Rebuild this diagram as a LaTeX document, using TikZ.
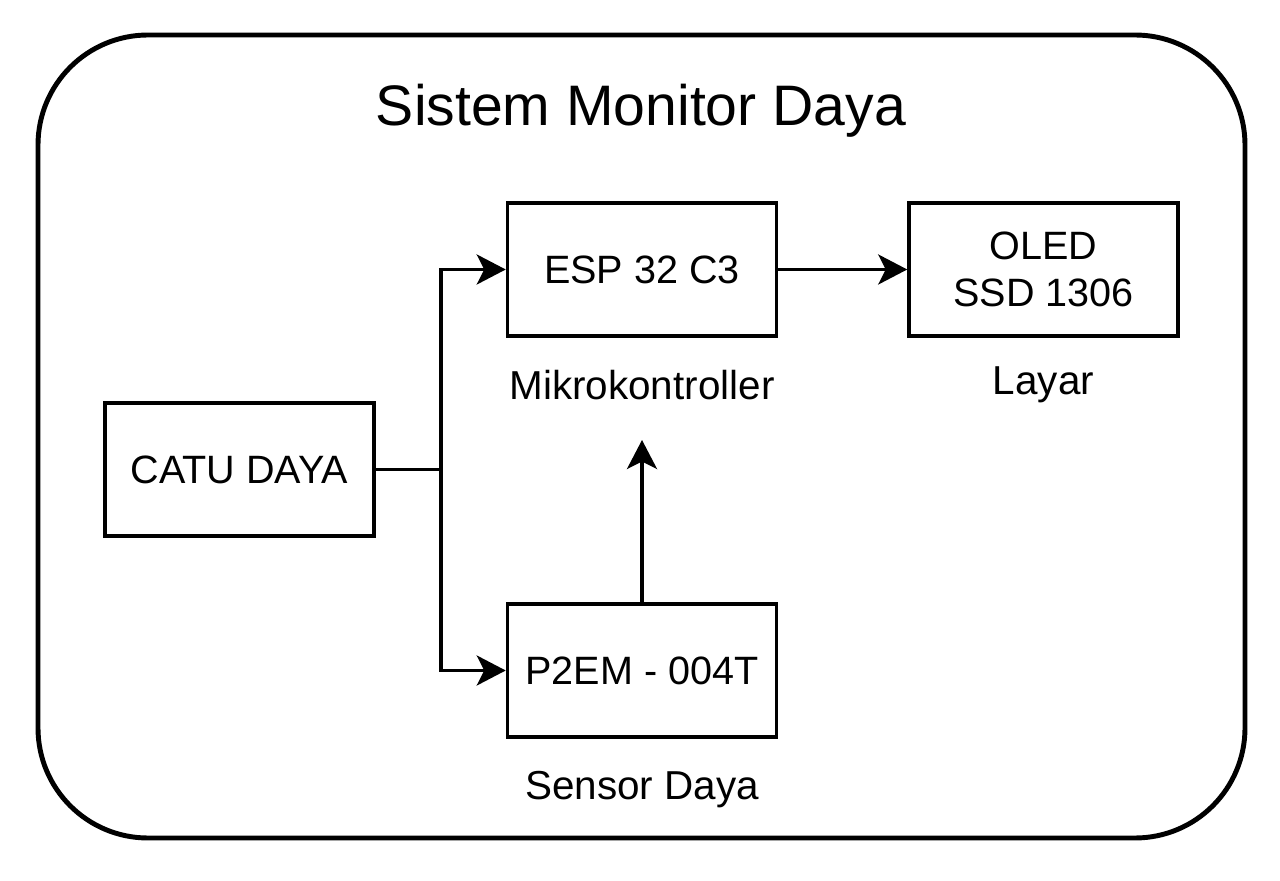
\documentclass[tikz,border=0pt]{standalone}
\usepackage{fontspec}
\setmainfont{Liberation Sans}
\usetikzlibrary{arrows.meta,positioning}

\tikzset{
    block/.style={draw, line width=2pt, minimum width=5.38cm, minimum height=2.66cm,
        inner sep=0pt, align=center, font=\fontsize{22.5}{27}\selectfont},
    caption/.style={font=\fontsize{23}{27}\selectfont},
    link/.style={line width=2pt, -{Stealth[length=0.58cm, width=0.6cm, inset=0.15cm]}}
}

\begin{document}
\begin{tikzpicture}
    \useasboundingbox (0, 0) rectangle (25.6, -17.62);

    % frame and title
    \draw[line width=2.8pt, rounded corners=2.2cm] (0.76, -0.70) rectangle (24.90, -16.76);
    \node[font=\fontsize{32.5}{38}\selectfont] (title) at (12.82, -2.22) {Sistem Monitor Daya};

    % blocks
    \node[block] (esp) at (12.84, -5.39) {ESP 32 C3};
    \node[block] (oled) at (20.87, -5.39) {OLED\\SSD 1306};
    \node[block] (catu) at (4.79, -9.39) {CATU DAYA};
    \node[block] (p2em) at (12.84, -13.41) {P2EM - 004T};

    \node[caption] (mcu) at (12.84, -7.70) {Mikrokontroller};
    \node[caption] (layar) at (20.87, -7.70) {Layar};
    \node[caption] (sensor) at (12.84, -15.80) {Sensor Daya};

    % connectors
    \coordinate (split) at (8.82, -9.39);
    \coordinate (up) at (12.84, -8.80);
    \draw[line width=2pt] (catu.east) -- (split);
    \draw[link] (split) |- (esp.west);
    \draw[link] (split) |- (p2em.west);
    \draw[link] (esp.east) -- (oled.west);
    \draw[link] (p2em.north) -- (up);
\end{tikzpicture}
\end{document}
